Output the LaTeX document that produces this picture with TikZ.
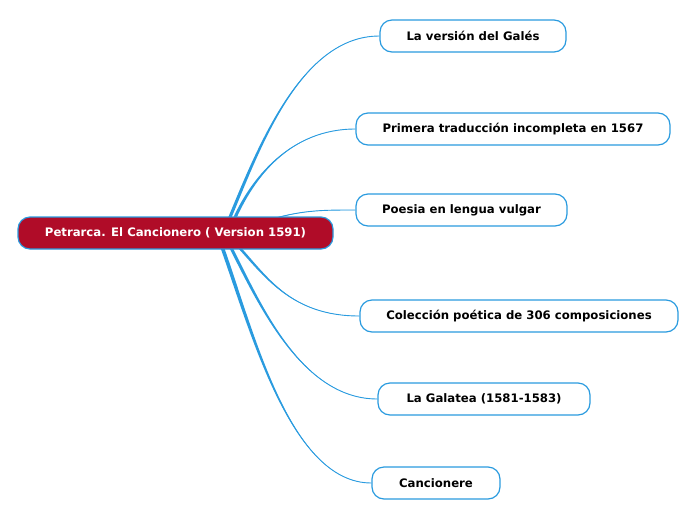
\documentclass[tikz,border=0pt]{standalone}
\usepackage{fontspec}
\setmainfont{DejaVu Sans}
\usetikzlibrary{calc,backgrounds}
\definecolor{linkblue}{HTML}{2A9BDF}
\definecolor{rootred}{HTML}{B00C28}
\tikzset{
  x=1pt, y=-1pt,
  childbox/.style={draw=linkblue, line width=1.2pt, rounded corners=12pt, fill=white,
    minimum height=32pt, inner xsep=0pt, font=\fontsize{11.7}{13}\selectfont\bfseries, text=black},
  rootbox/.style={draw=linkblue, line width=1.2pt, rounded corners=12pt, fill=rootred,
    minimum height=32pt, minimum width=315pt, font=\fontsize{11.7}{13}\selectfont\bfseries, text=white},
  linkline/.style={draw=linkblue, line width=0.9pt},
  linkfill/.style={fill=linkblue}
}
\newcommand{\taperlink}[5]{%
  \fill[linkfill] ($(#1)+(-#5,0)$) .. controls ($(#2)+(-#5,0)$) and (#3) .. (#4)
     .. controls (#3) and ($(#2)+(#5,0)$) .. ($(#1)+(#5,0)$) -- cycle;
  \draw[linkline] (#1) .. controls (#2) and (#3) .. (#4);
}
\begin{document}
\begin{tikzpicture}
\useasboundingbox (0,0) rectangle (696,520);
\node[rootbox] (root) at (175.5,233) {Petrarca. El Cancionero ( Version 1591)};
\node[childbox, minimum width=186pt] (gales) at (473,36) {La versión del Galés};
\node[childbox, minimum width=314pt] (primera) at (513,129) {Primera traducción incompleta en 1567};
\node[childbox, minimum width=211pt] (poesia) at (461.5,210) {Poesia en lengua vulgar};
\node[childbox, minimum width=318pt] (coleccion) at (519,316) {Colección poética de 306 composiciones};
\node[childbox, minimum width=212pt] (galatea) at (484,399) {La Galatea (1581-1583)};
\node[childbox, minimum width=128pt] (cancionere) at (436,483) {Cancionere};
\coordinate (s1) at (228,222);
\coordinate (s2) at (233,222);
\coordinate (s3) at (262,222);
\coordinate (s4) at (236,244);
\coordinate (s5) at (229,244);
\coordinate (s6) at (221,244);
\begin{pgfonlayer}{background}
\taperlink{s1}{258,150}{300,36}{gales.west}{1.7}
\taperlink{s2}{252,178}{290,129}{primera.west}{1.7}
\taperlink{s3}{300,210}{320,210}{poesia.west}{1.0}
\taperlink{s4}{265,275}{290,316}{coleccion.west}{1.7}
\taperlink{s5}{258,300}{300,399}{galatea.west}{1.7}
\taperlink{s6}{252,330}{290,483}{cancionere.west}{1.9}
\end{pgfonlayer}
\end{tikzpicture}
\end{document}
